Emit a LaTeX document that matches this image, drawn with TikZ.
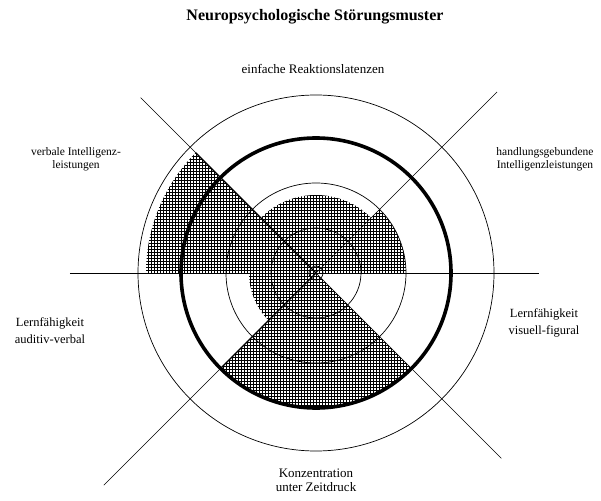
\documentclass[tikz,border=0pt]{standalone}
\usepackage{fontspec}
\setmainfont{Liberation Serif}
\usetikzlibrary{patterns}
\pgfdeclarepatternformonly{hatchgrid}{\pgfqpoint{-1pt}{-1pt}}{\pgfqpoint{4pt}{4pt}}{\pgfqpoint{3pt}{3pt}}{%
  \pgfsetlinewidth{1.1pt}%
  \pgfpathmoveto{\pgfqpoint{-0.1pt}{1.5pt}}\pgfpathlineto{\pgfqpoint{3.1pt}{1.5pt}}%
  \pgfpathmoveto{\pgfqpoint{1.5pt}{-0.1pt}}\pgfpathlineto{\pgfqpoint{1.5pt}{3.1pt}}%
  \pgfusepath{stroke}}
\tikzset{
  shaded/.style={pattern=hatchgrid, pattern color=black},
  thinline/.style={line width=0.7pt, black},
  ring/.style={line width=0.7pt, black},
  mainring/.style={line width=3.6pt, black},
  lbl/.style={align=center, inner sep=0pt, font=\fontsize{11.5}{13}\selectfont},
  lblt/.style={align=center, inner sep=0pt, font=\fontsize{13}{14}\selectfont},
  lblb/.style={align=center, inner sep=0pt, font=\fontsize{12.5}{17}\selectfont},
}
\begin{document}
\begin{tikzpicture}[x=1pt,y=1pt]
\useasboundingbox (-316,-227) rectangle (285,273);
\coordinate (c) at (0,0);
% shaded sectors
\fill[shaded] (c) -- (45:78pt) arc[start angle=45, end angle=135, radius=78pt] -- cycle;
\fill[shaded] (c) -- (0:90pt) arc[start angle=0, end angle=45, radius=90pt] -- cycle;
\fill[shaded] (c) -- (135:170pt) arc[start angle=135, end angle=180, radius=170pt] -- cycle;
\fill[shaded] (c) -- (180:67pt) arc[start angle=180, end angle=225, radius=67pt] -- cycle;
\fill[shaded] (c) -- (225:135pt) arc[start angle=225, end angle=315, radius=135pt] -- cycle;
% axes
\coordinate (hl) at (-246,0);
\coordinate (hr) at (223,0);
\coordinate (nw) at (135:248pt);
\coordinate (ne) at (45:256pt);
\coordinate (se) at (-45:262pt);
\coordinate (sw) at (225:300pt);
\draw[thinline] (hl) -- (hr);
\draw[thinline] (nw) -- (se);
\draw[thinline] (ne) -- (sw);
% radial edges of sectors (slightly heavier)
\draw[line width=1.3pt] (c) -- (135:170pt);
\draw[line width=1.3pt] (c) -- (225:135pt);
% rings
\draw[ring] (c) circle[radius=7pt];
\draw[ring] (c) circle[radius=45pt];
\draw[ring] (c) circle[radius=90pt];
\draw[ring] (c) circle[radius=178pt];
\draw[mainring] (c) circle[radius=135pt];
% texts
\node[inner sep=0pt, font=\fontsize{16}{18}\selectfont\bfseries] (title) at (-1,256) {Neuropsychologische Störungsmuster};
\node[lblt] (top) at (-3,204) {einfache Reaktionslatenzen};
\node[lbl] (vil) at (-240,114) {verbale Intelligenz-\\leistungen};
\node[lbl] (hil) at (229,114) {handlungsgebundene\\Intelligenzleistungen};
\node[lblb] (lav) at (-266,-58) {Lernfähigkeit\\auditiv-verbal};
\node[lblb] (lvf) at (228,-50) {Lernfähigkeit\\visuell-figural};
\node[lblt] (kuz) at (0,-207) {Konzentration\\unter Zeitdruck};
\end{tikzpicture}
\end{document}
